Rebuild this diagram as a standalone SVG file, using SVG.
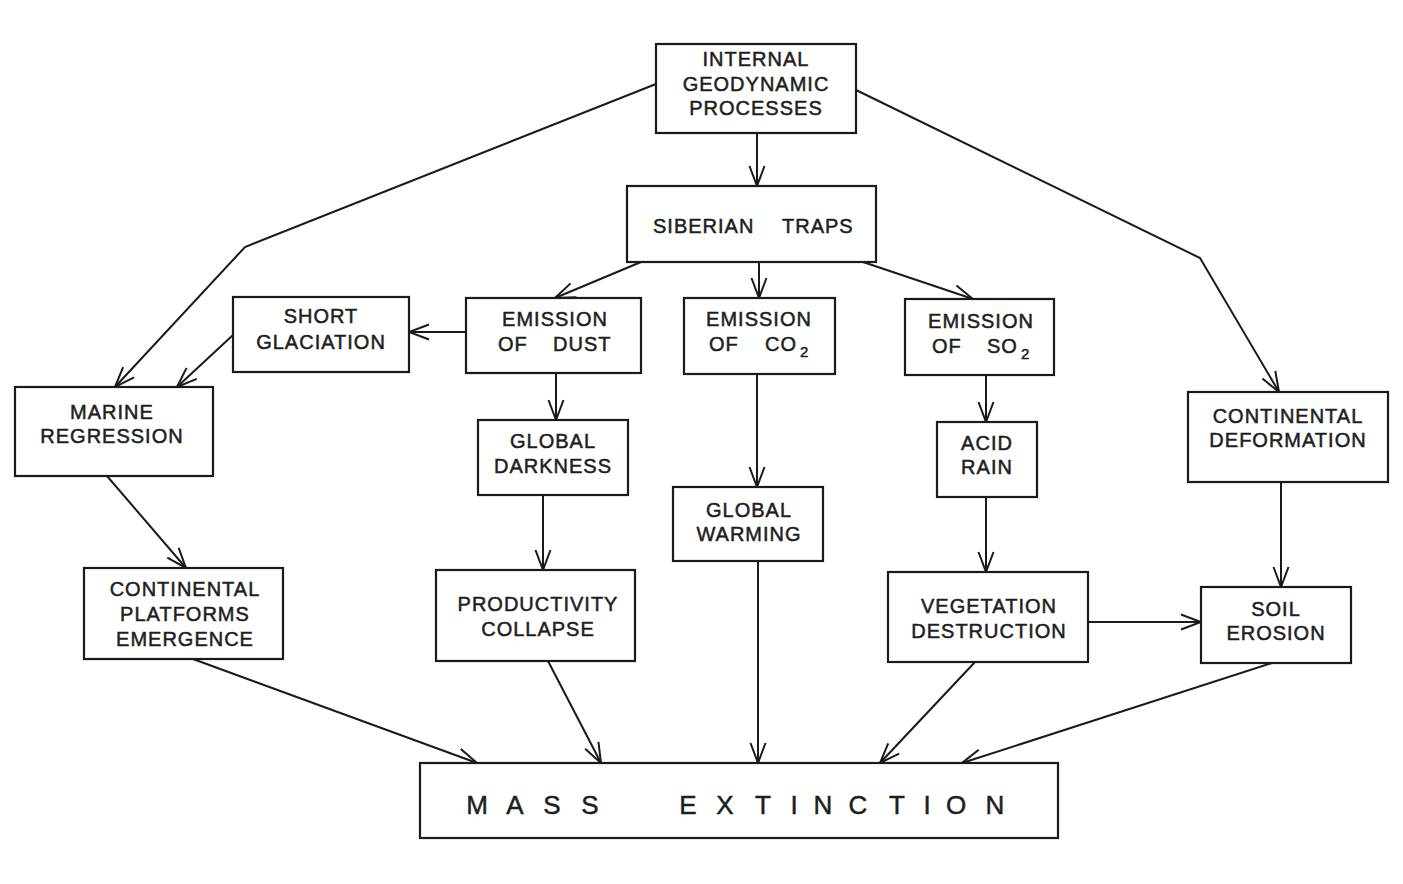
<svg xmlns="http://www.w3.org/2000/svg" width="1403" height="884" viewBox="0 0 1403 884">
<defs>
<marker id="arr" markerUnits="userSpaceOnUse" markerWidth="24" markerHeight="20" viewBox="0 0 24 20" refX="22" refY="10" orient="auto">
<path d="M2,2.5 L22,10 L2,17.5" fill="none" stroke="#1a1a1a" stroke-width="2"/>
</marker>
<style>
.box{fill:#fff;stroke:#1a1a1a;stroke-width:2.2}
.t{font-family:"Liberation Sans",Arial,sans-serif;font-size:20px;letter-spacing:1px;fill:#1e1e1e;stroke:#1e1e1e;stroke-width:0.5;text-anchor:middle}
.s{text-anchor:start}
.sub{font-size:15px}
.big{font-size:26px;letter-spacing:0}
.c line,.c polyline{fill:none;stroke:#1a1a1a;stroke-width:2;marker-end:url(#arr)}
</style>
</defs>
<rect width="1403" height="884" fill="#fff"/>
<g class="c" id="connectors">
<line x1="757" y1="133" x2="757" y2="186"/>
<polyline points="656,84 245,247 115,387"/>
<polyline points="856,90 1200,258 1279,392"/>
<line x1="641" y1="262" x2="555" y2="298"/>
<line x1="759" y1="262" x2="759" y2="298"/>
<line x1="863" y1="262" x2="973" y2="299"/>
<line x1="466" y1="332" x2="409" y2="332"/>
<line x1="233" y1="335" x2="177" y2="387"/>
<line x1="556" y1="373" x2="556" y2="420"/>
<line x1="757" y1="374" x2="757" y2="487"/>
<line x1="986" y1="375" x2="986" y2="422"/>
<line x1="986" y1="497" x2="986" y2="572"/>
<line x1="1281" y1="482" x2="1281" y2="587"/>
<line x1="1088" y1="622" x2="1201" y2="622"/>
<line x1="543" y1="495" x2="543" y2="570"/>
<line x1="107" y1="476" x2="186" y2="568"/>
<line x1="193" y1="659" x2="477" y2="763"/>
<line x1="548" y1="661" x2="601" y2="763"/>
<line x1="758" y1="561" x2="758" y2="763"/>
<line x1="975" y1="662" x2="880" y2="763"/>
<line x1="1272" y1="663" x2="962" y2="763"/>
</g>
<g id="internal"><rect class="box" x="656" y="44" width="200" height="89"/>
<text class="t" x="756" y="66">INTERNAL</text><text class="t" x="756" y="91">GEODYNAMIC</text><text class="t" x="756" y="115">PROCESSES</text></g>
<g id="siberian"><rect class="box" x="627" y="186" width="249" height="76"/>
<text class="t s" y="233"><tspan x="653">SIBERIAN</tspan><tspan x="782">TRAPS</tspan></text></g>
<g id="short"><rect class="box" x="233" y="297" width="176" height="75"/>
<text class="t" x="321" y="323">SHORT</text><text class="t" x="321" y="349">GLACIATION</text></g>
<g id="dust"><rect class="box" x="466" y="298" width="175" height="75"/>
<text class="t" x="555" y="326">EMISSION</text><text class="t s" y="351"><tspan x="498">OF</tspan><tspan x="553">DUST</tspan></text></g>
<g id="co2"><rect class="box" x="684" y="298" width="151" height="76"/>
<text class="t" x="759" y="326">EMISSION</text><text class="t s" y="351"><tspan x="709">OF</tspan><tspan x="765">CO</tspan><tspan class="sub" x="800" y="357">2</tspan></text></g>
<g id="so2"><rect class="box" x="905" y="299" width="149" height="76"/>
<text class="t" x="981" y="328">EMISSION</text><text class="t s" y="353"><tspan x="932">OF</tspan><tspan x="987">SO</tspan><tspan class="sub" x="1021" y="359">2</tspan></text></g>
<g id="marine"><rect class="box" x="15" y="387" width="198" height="89"/>
<text class="t" x="112" y="419">MARINE</text><text class="t" x="112" y="443">REGRESSION</text></g>
<g id="darkness"><rect class="box" x="478" y="420" width="150" height="75"/>
<text class="t" x="553" y="448">GLOBAL</text><text class="t" x="553" y="473">DARKNESS</text></g>
<g id="acid"><rect class="box" x="937" y="422" width="100" height="75"/>
<text class="t" x="987" y="450">ACID</text><text class="t" x="987" y="474">RAIN</text></g>
<g id="deformation"><rect class="box" x="1188" y="392" width="200" height="90"/>
<text class="t" x="1288" y="423">CONTINENTAL</text><text class="t" x="1288" y="447">DEFORMATION</text></g>
<g id="warming"><rect class="box" x="673" y="487" width="150" height="74"/>
<text class="t" x="749" y="517">GLOBAL</text><text class="t" x="749" y="541">WARMING</text></g>
<g id="platforms"><rect class="box" x="84" y="568" width="199" height="91"/>
<text class="t" x="185" y="596">CONTINENTAL</text><text class="t" x="185" y="621">PLATFORMS</text><text class="t" x="185" y="646">EMERGENCE</text></g>
<g id="productivity"><rect class="box" x="436" y="570" width="199" height="91"/>
<text class="t" x="538" y="611">PRODUCTIVITY</text><text class="t" x="538" y="636">COLLAPSE</text></g>
<g id="vegetation"><rect class="box" x="888" y="572" width="200" height="90"/>
<text class="t" x="989" y="613">VEGETATION</text><text class="t" x="989" y="638">DESTRUCTION</text></g>
<g id="soil"><rect class="box" x="1201" y="587" width="150" height="76"/>
<text class="t" x="1276" y="616">SOIL</text><text class="t" x="1276" y="640">EROSION</text></g>
<g id="mass"><rect class="box" x="420" y="763" width="638" height="75"/>
<text class="t big" x="477 515 552 590 688 725 763 794 823 858 897 927 956 995" y="814">MASSEXTINCTION</text></g>
</svg>
